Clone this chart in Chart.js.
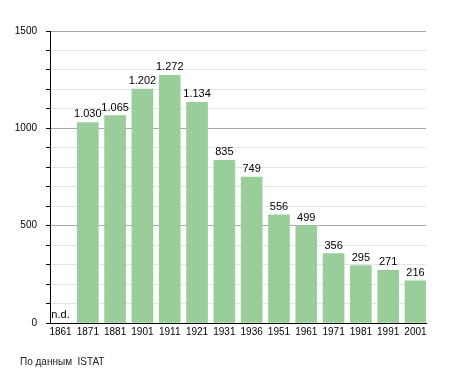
<!DOCTYPE html>
<html>
<head>
<meta charset="utf-8">
<script src="https://cdn.jsdelivr.net/npm/chart.js@4"></script>
<style>
  body { margin: 0; background: #fff; }
</style>
</head>
<body>
<canvas id="popChart" width="455" height="373"></canvas>
<script>
var years = ['1861', '1871', '1881', '1901', '1911', '1921', '1931', '1936', '1951', '1961', '1971', '1981', '1991', '2001'];
var population = [null, 1030, 1065, 1202, 1272, 1134, 835, 749, 556, 499, 356, 295, 271, 216];
var yTicks = [0, 500, 1000, 1500];
var sourceNote = 'По данным  ISTAT';

function fmt(v) {
    return String(v).replace(/\B(?=(\d{3})+(?!\d))/g, '.');
}

var FONT = '"Liberation Sans", Arial, sans-serif';

// value labels above bars, "n.d." for missing
var barLabels = {
    id: 'barLabels',
    afterDatasetsDraw: function (chart) {
        var c = chart.ctx;
        var xs = chart.scales.x, ys = chart.scales.y;
        c.save();
        c.font = '11px ' + FONT;
        c.fillStyle = '#000';
        c.textAlign = 'center';
        c.textBaseline = 'alphabetic';
        population.forEach(function (v, i) {
            var px = xs.getPixelForValue(i);
            var py = ys.getPixelForValue(v == null ? 0 : v);
            c.fillText(v == null ? 'n.d.' : fmt(v), px, py - 5);
        });
        c.font = '10px ' + FONT;
        c.textAlign = 'left';
        c.fillStyle = '#222';
        c.fillText(sourceNote, 20, 365);
        c.restore();
    }
};

var ctx = document.getElementById('popChart').getContext('2d');
var popChart = new Chart(ctx, {
    type: 'bar',
    data: {
        datasets: [{
            data: population.map(function (v, i) { return { x: i, y: v }; }),
            backgroundColor: '#99cd99',
            barThickness: 21
        }]
    },
    options: {
        responsive: false,
        animation: false,
        layout: { padding: { left: 0, right: 29, top: 31, bottom: 0 } },
        plugins: {
            legend: { display: false },
            tooltip: { enabled: false }
        },
        scales: {
            x: {
                type: 'linear',
                offset: false,
                min: -0.385,
                max: 13.385,
                grid: { display: false, drawTicks: false },
                border: { color: '#000', width: 1 },
                ticks: {
                    stepSize: 1,
                    includeBounds: false,
                    autoSkip: false,
                    maxRotation: 0,
                    padding: 3,
                    color: '#000',
                    font: { family: FONT, size: 10 },
                    callback: function (v) {
                        return Number.isInteger(v) ? years[v] : '';
                    }
                },
                afterFit: function (s) { s.height = 50; }
            },
            y: {
                min: 0,
                max: 1500,
                grid: {
                    color: function (c) {
                        return c.tick && yTicks.indexOf(c.tick.value) >= 0 ? '#a8a8a8' : '#e4e4e4';
                    },
                    tickColor: '#000',
                    tickLength: 4
                },
                border: { color: '#000', width: 1 },
                ticks: {
                    stepSize: 100,
                    padding: 9,
                    color: '#000',
                    font: { family: FONT, size: 10 },
                    callback: function (v) {
                        return yTicks.indexOf(v) >= 0 ? String(v) : '';
                    }
                },
                afterFit: function (s) { s.width = 50; }
            }
        }
    },
    plugins: [barLabels]
});
</script>
</body>
</html>
